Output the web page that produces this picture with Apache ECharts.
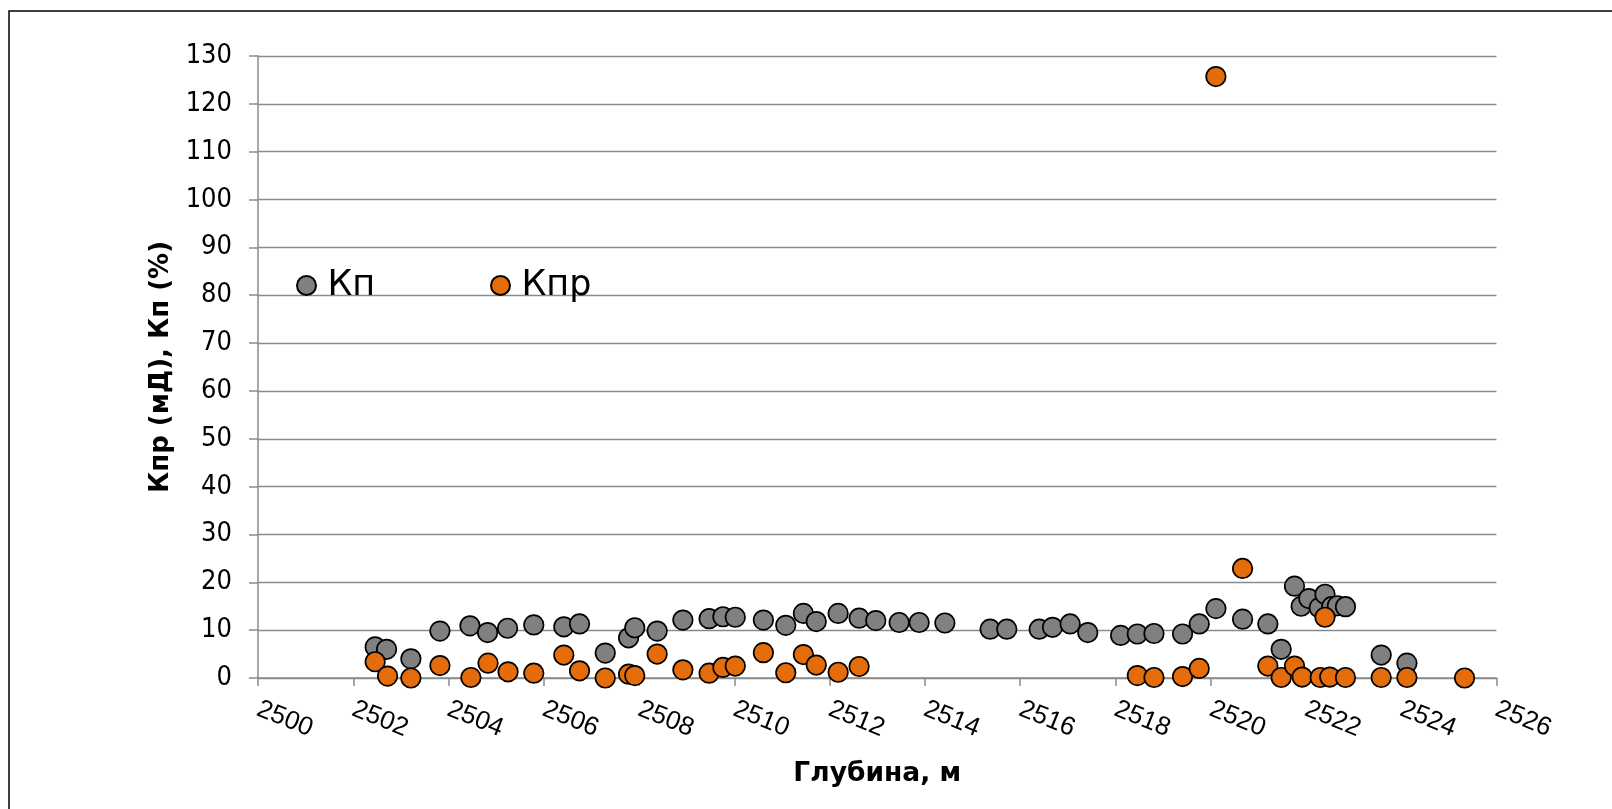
<!DOCTYPE html>
<html>
<head>
<meta charset="utf-8">
<script src="https://cdn.jsdelivr.net/npm/echarts@6/dist/echarts.min.js"></script>
<style>
html,body{margin:0;padding:0;background:#fff;}
#chart{width:1612px;height:809px;}
</style>
</head>
<body>
<div id="chart"></div>
<script>
// Кп (gray) series: depth (m) and value (%)
const kpDepth = [2502.46,2502.70,2503.21,2503.82,2504.45,2504.82,2505.24,2505.79,2506.42,2506.75,2507.29,2507.78,2507.91,2508.38,2508.92,2509.47,2509.76,2510.02,2510.61,2511.08,2511.45,2511.72,2512.18,2512.62,2512.97,2513.46,2513.88,2514.42,2515.37,2515.72,2516.40,2516.68,2517.05,2517.42,2518.11,2518.46,2518.81,2519.41,2519.76,2520.11,2520.67,2521.20,2521.48,2521.76,2521.90,2522.06,2522.28,2522.40,2522.54,2522.66,2522.83,2523.58,2524.12];
const kpValue = [6.5,6.0,4.0,9.8,10.9,9.5,10.4,11.1,10.7,11.3,5.2,8.4,10.5,9.8,12.1,12.4,12.8,12.7,12.1,11.0,13.5,11.8,13.5,12.5,12.0,11.6,11.6,11.5,10.2,10.2,10.2,10.6,11.3,9.5,8.9,9.2,9.3,9.2,11.3,14.5,12.3,11.3,6.0,19.2,15.0,16.6,14.7,17.5,14.9,15.1,14.9,4.8,3.1];
// Кпр (orange) series: depth (m) and value (мД)
const kprDepth = [2502.46,2502.72,2503.21,2503.82,2504.47,2504.83,2505.25,2505.79,2506.42,2506.75,2507.29,2507.78,2507.91,2508.38,2508.92,2509.47,2509.76,2510.02,2510.61,2511.08,2511.45,2511.72,2512.18,2512.62,2518.46,2518.81,2519.41,2519.76,2520.11,2520.67,2521.20,2521.48,2521.76,2521.92,2522.30,2522.40,2522.50,2522.83,2523.58,2524.12,2525.33];
const kprValue = [3.4,0.4,0.0,2.6,0.1,3.1,1.3,1.0,4.8,1.5,0.0,0.8,0.5,5.0,1.7,1.0,2.2,2.5,5.3,1.1,4.9,2.7,1.2,2.4,0.5,0.1,0.3,2.0,125.7,22.9,2.5,0.1,2.5,0.2,0.1,12.7,0.2,0.1,0.1,0.1,0.0];

const seriesNames = ['Кп','Кпр'];
const xTitle = 'Глубина, м';
const yTitle = 'Кпр (мД), Кп (%)';

const zip = (a,b) => a.map((d,i)=>[d,b[i]]);

const chart = echarts.init(document.getElementById('chart'), null, {renderer:'canvas'});
const gridColor = '#8a8a8a';
const condFont = "'DejaVu Sans Condensed','DejaVu Sans',sans-serif";
const wideFont = "'DejaVu Sans',Verdana,sans-serif";
const arialFont = "'Liberation Sans',Arial,sans-serif";
chart.setOption({
  animation:false,
  backgroundColor:'#ffffff',
  graphic:[{
    type:'rect', silent:true,
    shape:{x:9,y:11,width:1700,height:1000},
    style:{fill:'none',stroke:'#000',lineWidth:1.5}
  }],
  grid:{left:258,right:115.5,top:56,bottom:131,containLabel:false},
  legend:[
    {data:[seriesNames[0]],left:291,top:263,itemWidth:32,itemHeight:19,icon:'circle',
     textStyle:{fontFamily:wideFont,fontSize:35,color:'#000',lineHeight:35}},
    {data:[seriesNames[1]],left:485,top:263,itemWidth:32,itemHeight:19,icon:'circle',
     textStyle:{fontFamily:wideFont,fontSize:35,color:'#000',lineHeight:35}}
  ],
  xAxis:{
    type:'value',min:2500,max:2526,interval:2,
    name:xTitle,nameLocation:'middle',nameGap:83,
    nameTextStyle:{fontFamily:wideFont,fontWeight:'bold',fontSize:26.5,color:'#000'},
    axisLine:{show:true,lineStyle:{color:gridColor,width:1.5}},
    axisTick:{show:true,length:8,lineStyle:{color:gridColor,width:1.5}},
    splitLine:{show:false},
    axisLabel:{rotate:-22,margin:30,fontFamily:arialFont,fontSize:26,color:'#000',
      formatter:function(v){return String(v);}}
  },
  yAxis:{
    type:'value',min:0,max:130,interval:10,
    name:yTitle,nameLocation:'middle',nameGap:81,
    nameTextStyle:{fontFamily:wideFont,fontWeight:'bold',fontSize:26,color:'#000'},
    axisLine:{show:true,lineStyle:{color:gridColor,width:1.5}},
    axisTick:{show:true,length:9,lineStyle:{color:gridColor,width:1.5}},
    splitLine:{show:true,lineStyle:{color:gridColor,width:1.3}},
    axisLabel:{margin:26,fontFamily:condFont,fontSize:27,color:'#000'}
  },
  series:[
    {name:seriesNames[0],type:'scatter',data:zip(kpDepth,kpValue),symbol:'circle',symbolSize:19.5,
     itemStyle:{color:'#808080',borderColor:'#000',borderWidth:1.7,opacity:1}},
    {name:seriesNames[1],type:'scatter',data:zip(kprDepth,kprValue),symbol:'circle',symbolSize:19.5,
     itemStyle:{color:'#E46C0A',borderColor:'#000',borderWidth:1.7,opacity:1}}
  ]
});
</script>
</body>
</html>
